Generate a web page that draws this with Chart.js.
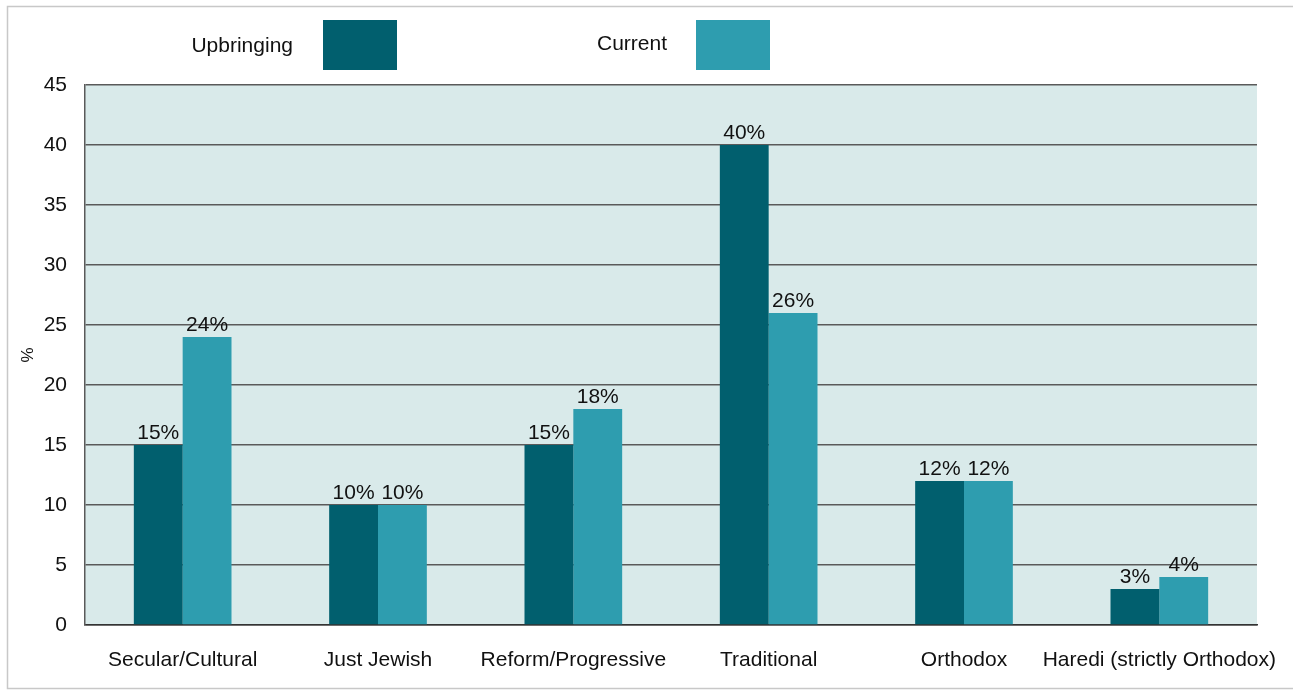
<!DOCTYPE html>
<html>
<head>
<meta charset="utf-8">
<script src="https://cdn.jsdelivr.net/npm/chart.js@4"></script>
<style>
  html, body { margin: 0; padding: 0; background: #fff; }
  #wrap { width: 1293px; height: 690px; position: relative; }
</style>
</head>
<body>
<div id="wrap"><canvas id="chart"></canvas></div>
<script>
  // Data
  const categories = ["Secular/Cultural", "Just Jewish", "Reform/Progressive", "Traditional", "Orthodox", "Haredi (strictly Orthodox)"];
  const upbringing = [15, 10, 15, 40, 12, 3];
  const current = [24, 10, 18, 26, 12, 4];
  const seriesNames = ["Upbringing", "Current"];
  const yTicks = [0, 5, 10, 15, 20, 25, 30, 35, 40, 45];

  const FONT = "'Liberation Sans', Arial, sans-serif";

  // frame + plot background
  const backdrop = {
    id: "backdrop",
    beforeDraw(chart) {
      const c = chart.ctx, a = chart.chartArea;
      c.save();
      c.strokeStyle = "#c8c8c8";
      c.lineWidth = 1.5;
      c.strokeRect(7.5, 6.5, 1300, 682);
      c.fillStyle = "#d9eaea";
      c.fillRect(a.left, a.top, a.right - a.left, a.bottom - a.top);
      c.restore();
    }
  };

  // legend drawn as text followed by a colour block
  const legendBoxes = {
    id: "legendBoxes",
    afterDraw(chart) {
      const c = chart.ctx;
      const spots = [{ textRight: 293, box: 323 }, { textRight: 667, box: 696 }];
      c.save();
      c.font = "21px " + FONT;
      c.textAlign = "right";
      c.textBaseline = "middle";
      chart.data.datasets.forEach(function (ds, i) {
        c.fillStyle = "#111";
        c.fillText(ds.label, spots[i].textRight, 46 - i * 2);
        c.fillStyle = ds.backgroundColor;
        c.fillRect(spots[i].box, 20, 74, 50);
      });
      c.restore();
    }
  };

  // value labels on top of each bar
  const valueLabels = {
    id: "valueLabels",
    afterDatasetsDraw(chart) {
      const c = chart.ctx;
      c.save();
      c.font = "21px " + FONT;
      c.fillStyle = "#111";
      c.textAlign = "center";
      c.textBaseline = "bottom";
      chart.data.datasets.forEach(function (ds, i) {
        chart.getDatasetMeta(i).data.forEach(function (bar, j) {
          c.fillText(ds.data[j] + "%", bar.x, bar.y - 1);
        });
      });
      c.restore();
    }
  };

  new Chart(document.getElementById("chart"), {
    type: "bar",
    data: {
      labels: categories,
      datasets: [
        { label: seriesNames[0], data: upbringing, backgroundColor: "#015f6e" },
        { label: seriesNames[1], data: current, backgroundColor: "#2e9daf" }
      ]
    },
    options: {
      responsive: true,
      maintainAspectRatio: false,
      animation: false,
      layout: { padding: { top: 85, right: 36, left: 0, bottom: 0 } },
      datasets: { bar: { categoryPercentage: 0.5, barPercentage: 1.0 } },
      plugins: {
        legend: { display: false },
        tooltip: { enabled: false }
      },
      scales: {
        x: {
          afterFit(axis) { axis.height = 65; axis.paddingRight = 0; axis.paddingLeft = 0; },
          grid: { display: false, drawTicks: false },
          border: { display: true, color: "#333", width: 1.5 },
          ticks: { color: "#111", font: { family: FONT, size: 21 }, padding: 23, maxRotation: 0, autoSkip: false }
        },
        y: {
          min: 0,
          max: 45,
          afterFit(axis) { axis.width = 85; },
          afterBuildTicks(axis) { axis.ticks = yTicks.map(v => ({ value: v })); },
          grid: { color: "#5a5a5a", lineWidth: 1.5, drawTicks: false },
          border: { display: true, color: "#5a5a5a", width: 1.5 },
          ticks: { color: "#111", font: { family: FONT, size: 21 }, padding: 18 },
          title: { display: true, text: "%", color: "#111", font: { family: FONT, size: 17 }, padding: { top: 18, bottom: 0 } }
        }
      }
    },
    plugins: [backdrop, legendBoxes, valueLabels]
  });
</script>
</body>
</html>
